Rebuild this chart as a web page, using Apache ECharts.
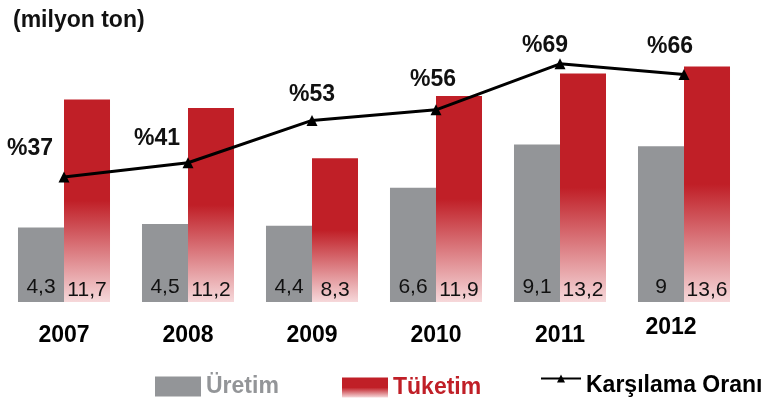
<!DOCTYPE html>
<html>
<head>
<meta charset="utf-8">
<script src="https://cdn.jsdelivr.net/npm/echarts@6/dist/echarts.min.js"></script>
<style>
  html, body { margin: 0; padding: 0; background: #fff; }
  #chart { width: 773px; height: 405px; }
</style>
</head>
<body>
<div id="chart"></div>
<script>
// data (milyon ton)
const years = ['2007', '2008', '2009', '2010', '2011', '2012']
const uretim = [4.3, 4.5, 4.4, 6.6, 9.1, 9]
const tuketim = [11.7, 11.2, 8.3, 11.9, 13.2, 13.6]
const karsilama = [37, 41, 53, 56, 69, 66]

// nudges for the % labels so they sit like the original
const pctOffsets = [[-34, -6], [-31, -2], [0, -4], [-3, -8], [-15, 4], [-14, -6]]

const FONT = '"Liberation Sans", Arial, Helvetica, sans-serif'
const GRAY = '#939598'
const RED = '#c01f27'

const redFill = new echarts.graphic.LinearGradient(0, 0, 0, 1, [
  { offset: 0, color: RED },
  { offset: 0.5, color: RED },
  { offset: 1, color: '#f6d8da' }
])

const comma = p => String(p.value).replace('.', ',')

const legendText = { fontSize: 23, fontWeight: 'bold', fontFamily: FONT }

const chart = echarts.init(document.getElementById('chart'))

chart.setOption({
  animation: false,
  textStyle: { fontFamily: FONT },
  title: {
    text: '(milyon ton)',
    left: 8,
    top: 4,
    textStyle: { fontSize: 23, fontWeight: 'bold', color: '#111', fontFamily: FONT }
  },
  legend: [
    {
      left: 150, top: 370,
      itemWidth: 46, itemHeight: 20,
      data: [{ name: 'Üretim', icon: 'rect', textStyle: { color: GRAY } }],
      textStyle: legendText
    },
    {
      left: 337, top: 371,
      itemWidth: 46, itemHeight: 20,
      data: [{ name: 'Tüketim', icon: 'rect', textStyle: { color: RED } }],
      textStyle: legendText
    },
    {
      // line icon sits a bit higher than its text in the original
      left: 535, top: 369,
      itemWidth: 40, itemHeight: 10,
      data: [{ name: 'Karşılama Oranı' }],
      formatter: name => '{t|' + name + '}',
      textStyle: Object.assign({
        rich: { t: Object.assign({ color: '#000', padding: [14, 0, 0, 0] }, legendText) }
      }, legendText)
    }
  ],
  grid: { left: 2, right: 27, top: 25, bottom: 103 },
  xAxis: {
    type: 'category',
    data: years.map((y, i) => i === years.length - 1
      ? { value: y, textStyle: { padding: [-8, 26, 0, 0] } }
      : y),
    axisLine: { show: false },
    axisTick: { show: false },
    axisLabel: {
      margin: 22,
      fontSize: 23,
      fontWeight: 'bold',
      color: '#000',
      fontFamily: FONT
    }
  },
  yAxis: [
    { type: 'value', min: 0, max: 16, show: false, splitLine: { show: false } },
    { type: 'value', min: 1.6, max: 80, show: false, splitLine: { show: false } }
  ],
  series: [
    {
      name: 'Üretim',
      type: 'bar',
      data: uretim,
      barGap: 0,
      barCategoryGap: '25.8%',
      itemStyle: { color: GRAY },
      label: {
        show: true,
        position: 'insideBottom',
        distance: 4,
        fontSize: 21,
        color: '#111',
        formatter: comma
      }
    },
    {
      name: 'Tüketim',
      type: 'bar',
      data: tuketim,
      barGap: 0,
      barCategoryGap: '25.8%',
      itemStyle: { color: redFill },
      label: {
        show: true,
        position: 'insideBottom',
        distance: 1,
        fontSize: 21,
        color: '#111',
        formatter: comma
      }
    },
    {
      name: 'Karşılama Oranı',
      type: 'line',
      yAxisIndex: 1,
      data: karsilama.map((v, i) => ({ value: v, label: { offset: pctOffsets[i] } })),
      symbol: 'triangle',
      symbolSize: 11,
      itemStyle: { color: '#000' },
      lineStyle: { color: '#000', width: 3 },
      label: {
        show: true,
        position: 'top',
        fontSize: 23,
        fontWeight: 'bold',
        color: '#111',
        fontFamily: FONT,
        formatter: p => '%' + p.value
      },
      z: 5
    }
  ]
})
</script>
</body>
</html>
